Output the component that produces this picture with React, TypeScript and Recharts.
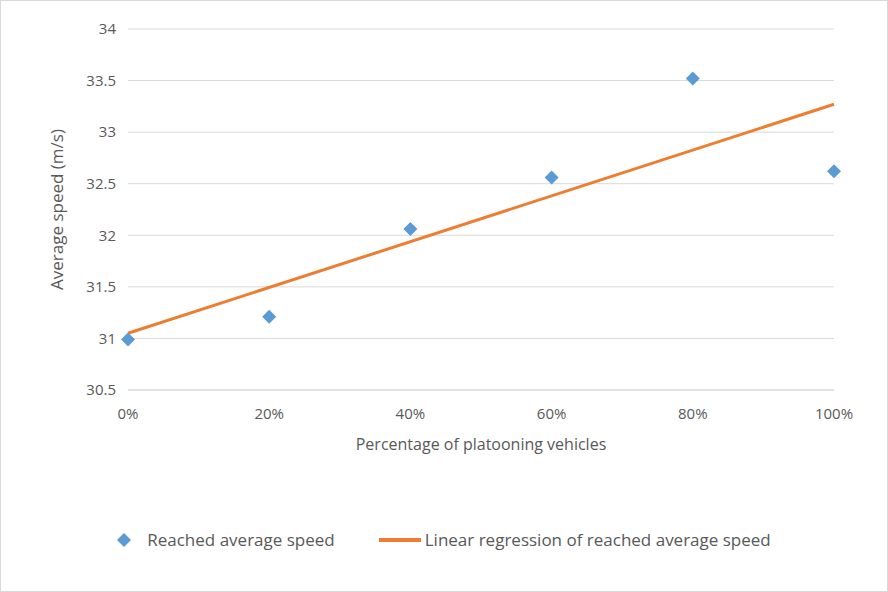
import { ComposedChart, Scatter, Line, XAxis, YAxis, CartesianGrid, Label } from 'recharts'

const shares = [0, 0.2, 0.4, 0.6, 0.8, 1]
const speeds = [30.99, 31.21, 32.06, 32.56, 33.52, 32.62]
const fitEnds = [0, 1]
const fitSpeeds = [31.05, 33.27]
const yTicks = [30.5, 31, 31.5, 32, 32.5, 33, 33.5, 34]

const points = shares.map((x, i) => ({ x, y: speeds[i] }))
const fit = fitEnds.map((x, i) => ({ x, y: fitSpeeds[i] }))

const font = '"Open Sans", sans-serif'
const tick = { fontSize: 15, fill: '#595959', fontFamily: font }

function Diamond(props: any) {
  const { cx, cy } = props
  if (cx == null || cy == null) return null
  const r = 7
  return <polygon points={`${cx},${cy - r} ${cx + r},${cy} ${cx},${cy + r} ${cx - r},${cy}`} fill="#5b9bd5" />
}

export default function App() {
  return (
    <div style={{ position: 'absolute', left: 0, top: 0, width: 888, height: 592, border: '1px solid #d9d9d9', boxSizing: 'border-box', background: '#fff', fontFamily: font }}>
      <ComposedChart width={886} height={590} margin={{ top: 28, right: 53, bottom: 139, left: 52 }}>
        <CartesianGrid stroke="#d9d9d9" vertical={false} />
        <XAxis type="number" dataKey="x" domain={[0, 1]} ticks={shares} tickFormatter={(v: number) => `${Math.round(v * 100)}%`}
          tick={tick} tickLine={false} tickMargin={12} axisLine={{ stroke: '#d9d9d9' }} height={62}>
          <Label value="Percentage of platooning vehicles" position="insideBottom" offset={2} style={{ fontSize: 16, fill: '#595959', fontFamily: font }} />
        </XAxis>
        <YAxis type="number" dataKey="y" domain={[30.5, 34]} ticks={yTicks} tick={tick} tickLine={false} tickMargin={6} axisLine={false} width={75}>
          <Label value="Average speed (m/s)" angle={-90} position="insideLeft" offset={4} style={{ fontSize: 17, fill: '#595959', fontFamily: font, textAnchor: 'middle' }} />
        </YAxis>
        <Line data={fit} dataKey="y" type="linear" stroke="#ed7d31" strokeWidth={3} dot={false} isAnimationActive={false} />
        <Scatter data={points} dataKey="y" shape={Diamond} fill="#5b9bd5" isAnimationActive={false} />
      </ComposedChart>
      <div style={{ position: 'absolute', top: 527, left: 0, width: 886, display: 'flex', justifyContent: 'center', gap: 44, fontSize: 17, color: '#595959' }}>
        <span style={{ display: 'flex', alignItems: 'center', gap: 16 }}>
          <svg width="14" height="14"><polygon points="7,0 14,7 7,14 0,7" fill="#5b9bd5" /></svg>
          Reached average speed
        </span>
        <span style={{ display: 'flex', alignItems: 'center', gap: 4 }}>
          <svg width="42" height="6"><line x1="0" y1="3" x2="42" y2="3" stroke="#ed7d31" strokeWidth="4" /></svg>
          Linear regression of reached average speed
        </span>
      </div>
    </div>
  )
}
